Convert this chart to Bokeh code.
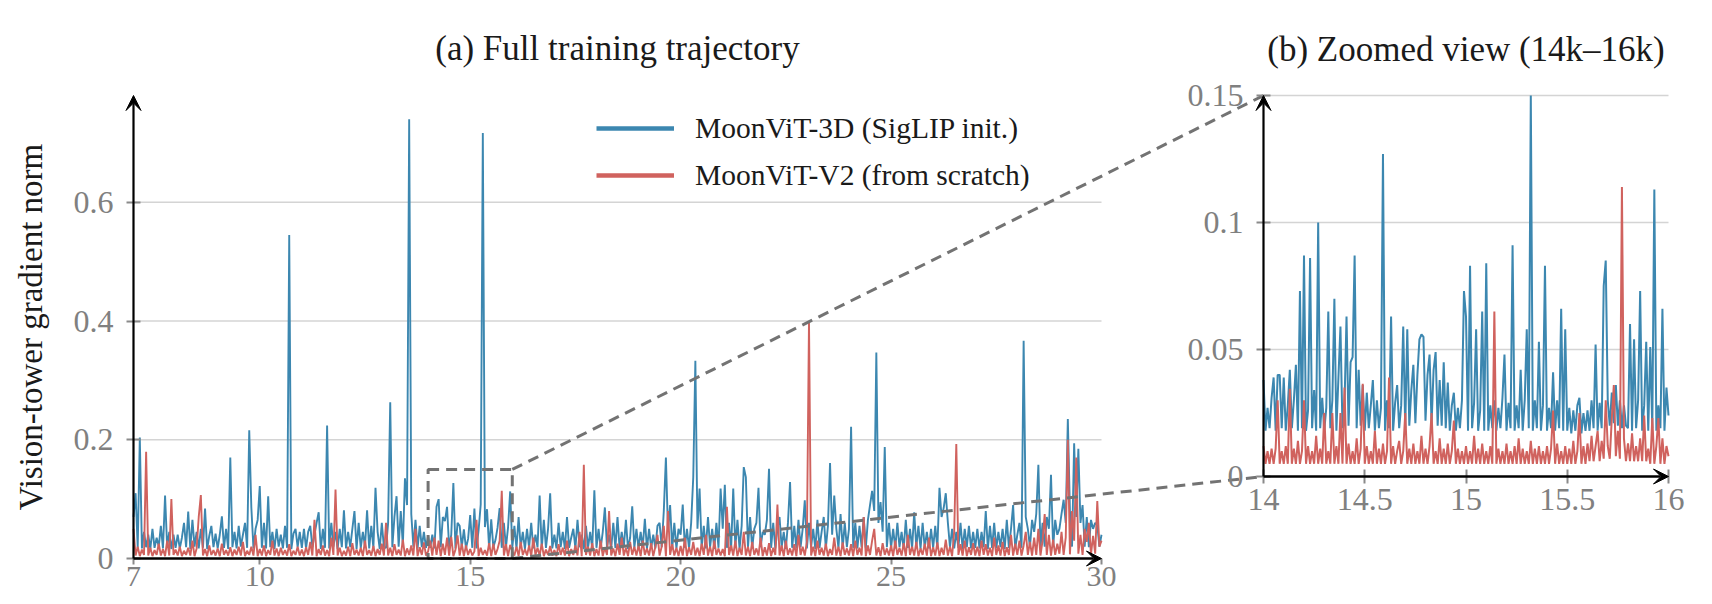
import numpy as np
from bokeh.plotting import figure
from bokeh.models import (Range1d, LinearAxis, FixedTicker, CustomJSTickFormatter,
                          Arrow, VeeHead, Label, Legend, LegendItem, ColumnDataSource)
from bokeh.embed import file_html
from bokeh.resources import INLINE

# ---------------- data ----------------
TITLE_A = "(a) Full training trajectory"
TITLE_B = "(b) Zoomed view (14k\u201316k)"
Y_LABEL = "Vision-tower gradient norm"
NAME_BLUE = "MoonViT-3D (SigLIP init.)"
NAME_RED = "MoonViT-V2 (from scratch)"

X_A_START, X_A_END = 7, 30          # thousand steps, panel (a)
X_B_START, X_B_END = 14, 16         # thousand steps, panel (b)
ZOOM_WINDOW_X = [14, 16]
ZOOM_WINDOW_Y = [0, 0.15]
Y_TOP_A = 0.78

X_TICKS_A = [7, 10, 15, 20, 25, 30]
Y_TICKS_A = [0, 0.2, 0.4, 0.6]
GRID_A = [0.2, 0.4, 0.6]
X_TICKS_B = [14, 14.5, 15, 15.5, 16]
Y_TICKS_B = [0, 0.05, 0.1, 0.15]
GRID_B = [0.05, 0.1, 0.15]

BLUE_A = [
    .07, .11, .018, .204, .017, .045, .019, .04, .016, .05, .018, .035, .02, .055, .017, .106, .019, .045, .016, .04,
    .018, .04, .017, .035, .06, .019, .079, .016, .065, .02, .045, .017, .05, .018, .084, .016, .038, .055, .019, .042,
    .017, .04, .071, .018, .05, .016, .17, .019, .045, .017, .055, .02, .04, .06, .018, .216, .086, .017, .05, .065,
    .122, .018, .06, .017, .105, .019, .045, .016, .05, .02, .04, .017, .055, .018, .545, .016, .042, .05, .019, .045,
    .018, .05, .017, .045, .055, .019, .04, .06, .078, .016, .05, .018, .224, .017, .06, .02, .045, .016, .05, .019,
    .081, .017, .045, .019, .05, .08, .016, .06, .018, .045, .02, .081, .017, .055, .018, .119, .045, .016, .06, .019,
    .018, .06, .263, .019, .07, .105, .02, .08, .022, .135, .09, .74, .075, .02, .065, .017, .055, .019, .045, .018,
    .038, .018, .04, .017, .087, .1, .019, .07, .063, .087, .018, .04, .127, .017, .06, .055, .019, .049, .017, .033,
    .073, .018, .084, .017, .048, .091, .717, .053, .083, .017, .066, .019, .031, .052, .085, .018, .06, .019, .053, .113,
    .018, .055, .017, .07, .019, .045, .016, .05, .018, .06, .017, .04, .019, .106, .016, .065, .018, .05, .11, .017,
    .04, .017, .06, .019, .045, .016, .07, .018, .035, .05, .017, .065, .019, .04, .016, .055, .018, .045, .017, .115,
    .018, .05, .017, .045, .086, .019, .04, .016, .06, .018, .07, .017, .045, .019, .065, .016, .035, .088, .018, .05,
    .017, .045, .019, .067, .016, .05, .018, .04, .017, .055, .06, .019, .08, .17, .045, .09, .018, .06, .017, .05,
    .04, .091, .018, .05, .017, .06, .137, .333, .05, .118, .018, .055, .017, .07, .019, .05, .016, .06, .018, .118,
    .05, .124, .018, .06, .017, .118, .019, .065, .016, .055, .154, .137, .018, .07, .017, .05, .06, .119, .019, .045,
    .04, .065, .151, .018, .06, .017, .05, .07, .019, .045, .016, .06, .129, .018, .055, .017, .065, .019, .05, .098,
    .017, .06, .019, .05, .016, .065, .018, .045, .07, .017, .055, .161, .04, .106, .05, .018, .075, .017, .06, .019,
    .05, .222, .018, .06, .017, .055, .019, .07, .018, .065, .09, .114, .08, .347, .06, .095, .045, .188, .019, .06,
    .018, .05, .017, .06, .019, .045, .016, .065, .018, .05, .017, .078, .019, .055, .016, .06, .018, .045, .017, .05,
    .018, .055, .017, .119, .07, .085, .11, .06, .019, .05, .017, .045, .018, .06, .016, .05, .019, .055, .017, .045,
    .018, .05, .017, .045, .019, .08, .016, .055, .018, .06, .017, .045, .019, .05, .016, .065, .018, .05, .09, .017,
    .04, .06, .018, .367, .07, .05, .019, .065, .045, .075, .158, .018, .06, .02, .07, .05, .141, .019, .065, .04,
    .05, .075, .099, .06, .235, .08, .02, .194, .07, .185, .06, .09, .02, .07, .019, .065, .05, .06, .056, .02,
    .04,
]

RED_A = [
    .05, .005, .02, .004, .015, .006, .18, .005, .018, .004, .014, .006, .025, .005, .016, .004, .03, .005, .10, .006,
    .015, .005, .02, .004, .013, .006, .018, .005, .03, .004, .017, .07, .107, .005, .016, .004, .022, .006, .014, .005,
    .017, .004, .025, .006, .014, .005, .019, .004, .015, .006, .02, .005, .028, .004, .013, .006, .02, .005, .04, .004,
    .016, .005, .022, .004, .014, .006, .03, .005, .017, .004, .018, .006, .014, .005, .024, .004, .013, .006, .02, .005,
    .015, .004, .019, .006, .028, .005, .065, .004, .016, .006, .022, .005, .014, .004, .035, .006, .116, .005, .018, .004,
    .013, .005, .02, .004, .026, .006, .015, .005, .018, .004, .03, .006, .014, .005, .021, .004, .016, .006, .025, .005,
    .06, .005, .018, .004, .024, .006, .015, .005, .032, .004, .017, .006, .022, .005, .05, .004, .019, .006, .027, .005,
    .012, .03, .005, .035, .006, .03, .004, .025, .006, .035, .005, .0365, .004, .015, .039, .005, .025, .004, .022, .006,
    .016, .005, .012, .065, .004, .018, .006, .014, .005, .026, .004, .025, .006, .016, .03, .114, .005, .024, .004, .023,
    .012, .005, .02, .004, .028, .006, .016, .005, .022, .004, .035, .006, .018, .005, .025, .004, .015, .006, .021, .005,
    .014, .004, .024, .006, .018, .005, .03, .004, .016, .006, .022, .005, .045, .004, .158, .006, .02, .005, .026, .004,
    .016, .005, .03, .004, .019, .006, .08, .005, .017, .004, .025, .006, .035, .005, .018, .004, .028, .006, .02, .005,
    .022, .004, .03, .006, .017, .005, .026, .004, .02, .04, .005, .02, .055, .004, .08, .006, .024, .005, .018, .004,
    .021, .005, .035, .004, .019, .006, .028, .005, .018, .004, .025, .006, .04, .005, .02, .004, .03, .006, .017, .005,
    .016, .004, .087, .006, .022, .005, .03, .004, .018, .006, .045, .005, .02, .004, .028, .006, .017, .005, .035, .004,
    .019, .005, .026, .004, .018, .006, .091, .005, .022, .004, .03, .006, .017, .005, .024, .004, .04, .006, .02, .005,
    .028, .40, .005, .02, .004, .03, .006, .018, .005, .025, .004, .016, .006, .035, .005, .02, .004, .027, .006, .017,
    .005, .024, .004, .03, .006, .018, .005, .07, .004, .022, .006, .03, .05, .005, .019, .004, .026, .006, .017, .005,
    .022, .004, .03, .006, .018, .005, .026, .004, .04, .006, .02, .005, .028, .004, .017, .006, .025, .005, .035, .004,
    .019, .005, .027, .004, .018, .006, .032, .005, .02, .004, .045, .193, .006, .024, .005, .03, .004, .019, .006, .026,
    .005, .02, .004, .03, .006, .024, .005, .018, .004, .035, .006, .022, .005, .028, .004, .019, .006, .04, .005, .025,
    .006, .03, .005, .022, .045, .006, .028, .005, .035, .006, .05, .005, .03, .075, .006, .04, .005, .032, .006, .025,
    .008, .045, .006, .035, .20, .007, .08, .03, .17, .008, .04, .006, .05, .028, .06, .007, .038, .008, .097, .02,
    .03,
]

BLUE_B = [
    .038, .018, .027, .019, .031, .039, .018, .04, .04, .019,
    .039, .018, .028, .042, .019, .03, .044, .018, .073, .019,
    .087, .018, .026, .086, .019, .034, .018, .1, .019, .031,
    .018, .027, .065, .019, .03, .07, .018, .039, .059, .019,
    .028, .063, .02, .045, .047, .087, .019, .042, .02, .036,
    .018, .033, .019, .028, .038, .018, .03, .019, .027, .127,
    .018, .03, .019, .063, .018, .029, .036, .019, .028, .059,
    .019, .058, .02, .034, .044, .021, .04, .054, .056, .055,
    .022, .04, .048, .021, .042, .049, .02, .038, .02, .045,
    .019, .037, .018, .028, .033, .018, .027, .019, .03, .073,
    .063, .018, .083, .019, .029, .058, .018, .026, .065, .018,
    .084, .018, .028, .019, .03, .018, .027, .019, .031, .048,
    .018, .029, .019, .091, .018, .028, .019, .042, .018, .03,
    .058, .019, .15, .018, .03, .019, .053, .018, .028, .083,
    .018, .027, .019, .041, .018, .03, .019, .066, .018, .058,
    .018, .027, .017, .026, .018, .028, .031, .017, .025, .018,
    .026, .018, .03, .019, .052, .018, .029, .019, .075, .085,
    .03, .02, .033, .021, .036, .02, .03, .019, .028, .02,
    .019, .06, .018, .054, .019, .03, .073, .018, .028, .053,
    .018, .051, .019, .113, .018, .028, .019, .066, .018, .035,
    .024,
]

RED_B = [
    .012, .005, .01, .005, .011, .005, .011, .03, .005, .01,
    .005, .012, .005, .0345, .005, .011, .005, .014, .005, .01,
    .03, .005, .012, .005, .01, .005, .016, .005, .011, .005,
    .025, .005, .01, .005, .025, .005, .012, .005, .025, .005,
    .035, .005, .013, .005, .01, .005, .015, .005, .011, .0365,
    .005, .012, .005, .01, .005, .018, .005, .011, .005, .013,
    .005, .01, .039, .005, .012, .005, .01, .014, .005, .01,
    .025, .005, .011, .005, .013, .005, .01, .005, .016, .005,
    .011, .005, .012, .025, .005, .01, .005, .015, .005, .011,
    .005, .013, .005, .01, .022, .005, .011, .005, .01, .005,
    .012, .005, .01, .005, .016, .005, .011, .005, .013, .005,
    .01, .005, .012, .005, .065, .005, .011, .005, .01, .005,
    .013, .005, .01, .005, .012, .005, .015, .005, .011, .005,
    .01, .005, .014, .005, .011, .005, .012, .005, .01, .005,
    .012, .005, .011, .026, .005, .013, .005, .01, .005, .012,
    .005, .011, .005, .014, .005, .01, .025, .005, .012, .005,
    .013, .006, .016, .006, .012, .018, .006, .014, .007, .03,
    .012, .007, .023, .036, .008, .018, .007, .114, .015, .006,
    .013, .006, .017, .006, .012, .006, .015, .006, .024, .006,
    .011, .005, .023, .005, .012, .023, .005, .015, .005, .012,
    .008,
]

# ---------------- styles ----------------
BLUE = "#3c87b0"
RED = "#d0625e"
GRID_COLOR = "#d4d4d4"
TICK_COLOR = "#8a8a8a"
LABEL_GRAY = "#808080"
DASH_COLOR = "#737373"
TEXT = "#1a1a1a"
SERIF = "Liberation Serif"

# ---------------- layout (page pixels, y downward) ----------------
W, H = 1712, 604
FL, FR, FT, FB = 0, W, 0, H            # frame covers the whole canvas
A_PX0, A_PX1 = 133, 1101               # x = 7, x = 30 (panel a)
A_PY0, A_PYTOP = 558, 95               # y = 0, y = Y_TOP_A
B_PX0, B_PX1 = 1263, 1668              # x = 14, x = 16 (panel b)
B_PY0, B_PY1 = 476, 95                 # y = 0, y = 0.15

ax_s = (A_PX1 - A_PX0) / (X_A_END - X_A_START)
ay_s = (A_PY0 - A_PYTOP) / Y_TOP_A
bx_s = (B_PX1 - B_PX0) / (X_B_END - X_B_START)
by_s = (B_PY0 - B_PY1) / ZOOM_WINDOW_Y[1]


def a_x(px): return X_A_START + (px - A_PX0) / ax_s
def a_y(py): return (A_PY0 - py) / ay_s
def b_x(px): return X_B_START + (px - B_PX0) / bx_s
def b_y(py): return (B_PY0 - py) / by_s
def b_px(x): return B_PX0 + (x - X_B_START) * bx_s
def b_py(y): return B_PY0 - y * by_s


p = figure(width=W, height=H,
           x_range=Range1d(a_x(FL), a_x(FR)), y_range=Range1d(a_y(FB), a_y(FT)),
           x_axis_type=None, y_axis_type=None,
           min_border_left=0, min_border_right=0, min_border_top=0, min_border_bottom=0,
           output_backend="svg", toolbar_location=None, tools="")
p.extra_x_ranges = {"zx": Range1d(b_x(FL), b_x(FR))}
p.extra_y_ranges = {"zy": Range1d(b_y(FB), b_y(FT))}
p.outline_line_color = None
p.background_fill_color = "white"
p.border_fill_color = "white"

ZB = dict(x_range_name="zx", y_range_name="zy")

# grid lines
p.segment(x0=[X_A_START] * len(GRID_A), x1=[X_A_END] * len(GRID_A), y0=GRID_A, y1=GRID_A,
          line_color=GRID_COLOR, line_width=1.5)
p.segment(x0=[X_B_START] * len(GRID_B), x1=[X_B_END] * len(GRID_B), y0=GRID_B, y1=GRID_B,
          line_color=GRID_COLOR, line_width=1.5, **ZB)

# series
src_ba = ColumnDataSource(dict(x=np.linspace(X_A_START, X_A_END, len(BLUE_A)), y=BLUE_A))
src_ra = ColumnDataSource(dict(x=np.linspace(X_A_START, X_A_END, len(RED_A)), y=RED_A))
src_bb = ColumnDataSource(dict(x=np.linspace(X_B_START, X_B_END, len(BLUE_B)), y=BLUE_B))
src_rb = ColumnDataSource(dict(x=np.linspace(X_B_START, X_B_END, len(RED_B)), y=RED_B))
p.line("x", "y", source=src_ba, line_color=BLUE, line_width=1.9)
p.line("x", "y", source=src_ra, line_color=RED, line_width=1.9)
p.line("x", "y", source=src_bb, line_color=BLUE, line_width=2.0, **ZB)
p.line("x", "y", source=src_rb, line_color=RED, line_width=2.0, **ZB)

# zoom window and connectors
p.quad(left=[ZOOM_WINDOW_X[0]], right=[ZOOM_WINDOW_X[1]], bottom=[ZOOM_WINDOW_Y[0]], top=[ZOOM_WINDOW_Y[1]],
       fill_alpha=0, line_color=DASH_COLOR, line_width=3, line_dash="11 7")
cx = a_x(b_px(X_B_START))
p.segment(x0=[ZOOM_WINDOW_X[1], ZOOM_WINDOW_X[1]], y0=[ZOOM_WINDOW_Y[1], ZOOM_WINDOW_Y[0]],
          x1=[cx, cx], y1=[a_y(b_py(ZOOM_WINDOW_Y[1])), a_y(b_py(ZOOM_WINDOW_Y[0]))],
          line_color=DASH_COLOR, line_width=3, line_dash="11 7")

fmt = CustomJSTickFormatter(code="return String(tick);")


def style_axis(ax, tick_in, tick_out, standoff, size="32px"):
    ax.axis_line_color = None
    ax.major_tick_line_color = TICK_COLOR
    ax.major_tick_line_width = 2
    ax.major_tick_in = tick_in
    ax.major_tick_out = tick_out
    ax.minor_tick_line_color = None
    ax.major_label_text_font = SERIF
    ax.major_label_text_font_size = size
    ax.major_label_text_color = LABEL_GRAY
    ax.major_label_standoff = standoff


# panel (a) axes
ya = LinearAxis(ticker=FixedTicker(ticks=Y_TICKS_A), formatter=fmt, bounds=(0, Y_TOP_A),
                fixed_location=X_A_START, axis_label=Y_LABEL)
style_axis(ya, 7, 7, 13)
ya.axis_label_text_font = SERIF
ya.axis_label_text_font_style = "normal"
ya.axis_label_text_font_size = "33px"
ya.axis_label_text_color = TEXT
ya.axis_label_standoff = 22
p.add_layout(ya, "left")

xa = LinearAxis(ticker=FixedTicker(ticks=X_TICKS_A), formatter=fmt, bounds=(X_A_START, X_A_END),
                fixed_location=0)
style_axis(xa, 0, 6, 2, "30px")
p.add_layout(xa, "below")

# panel (b) axes
yb = LinearAxis(ticker=FixedTicker(ticks=Y_TICKS_B), formatter=fmt, bounds=tuple(ZOOM_WINDOW_Y),
                fixed_location=X_B_START, **ZB)
style_axis(yb, 7, 7, 13)
p.add_layout(yb, "left")

xb = LinearAxis(ticker=FixedTicker(ticks=X_TICKS_B), formatter=fmt, bounds=(X_B_START, X_B_END),
                fixed_location=0, **ZB)
style_axis(xb, 7, 7, 5)
p.add_layout(xb, "below")


# axis arrows
def head():
    return VeeHead(size=15, fill_color="black", line_color="black", line_width=1)


p.add_layout(Arrow(start=None, end=head(), x_start=X_A_START, y_start=0, x_end=X_A_START, y_end=Y_TOP_A,
                   line_color="black", line_width=2.2))
p.add_layout(Arrow(start=None, end=head(), x_start=X_A_START, y_start=0, x_end=X_A_END, y_end=0,
                   line_color="black", line_width=2.6))
p.add_layout(Arrow(start=None, end=head(), x_start=X_B_START, y_start=0, x_end=X_B_START,
                   y_end=ZOOM_WINDOW_Y[1], line_color="black", line_width=2.2, **ZB))
p.add_layout(Arrow(start=None, end=head(), x_start=X_B_START, y_start=0, x_end=X_B_END, y_end=0,
                   line_color="black", line_width=2.6, **ZB))

# titles
p.add_layout(Label(x=a_x((A_PX0 + A_PX1) / 2), y=a_y(48), text=TITLE_A, text_align="center",
                   text_baseline="alphabetic", text_font=SERIF, text_font_size="35px", text_color=TEXT))
p.add_layout(Label(x=b_x((B_PX0 + B_PX1) / 2), y=b_y(49), text=TITLE_B, text_align="center",
                   text_baseline="alphabetic", text_font=SERIF, text_font_size="35px", text_color=TEXT,
                   **ZB))

# legend swatches: invisible copies of the series drawn thicker
lb = p.line("x", "y", source=src_ba, line_color=BLUE, line_width=4.5, visible=False)
lr = p.line("x", "y", source=src_ra, line_color=RED, line_width=4.5, visible=False)
legend = Legend(items=[LegendItem(label=NAME_BLUE, renderers=[lb]),
                       LegendItem(label=NAME_RED, renderers=[lr])],
                location=(596, 409), orientation="vertical",
                glyph_width=78, glyph_height=40, label_height=40, label_standoff=21, spacing=7,
                padding=0, margin=0, border_line_color=None, background_fill_alpha=0,
                label_text_font=SERIF, label_text_font_size="29.5px", label_text_color=TEXT)
p.add_layout(legend)

open("out.html", "w").write(file_html(p, INLINE))
